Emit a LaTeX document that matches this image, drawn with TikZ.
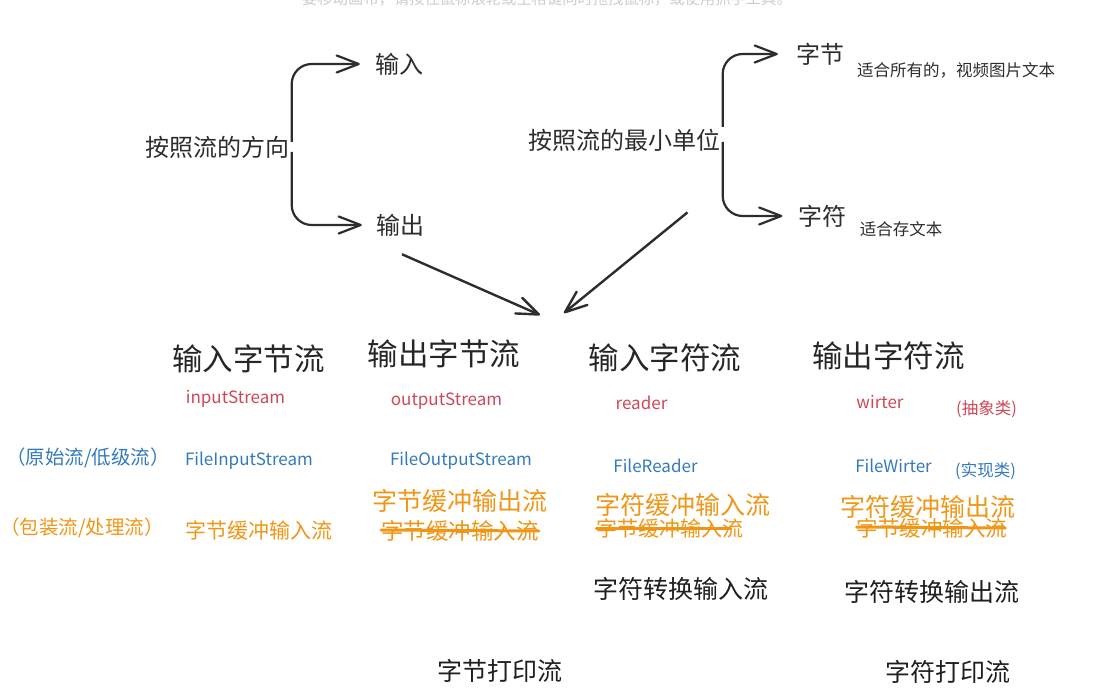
\documentclass[tikz,border=0pt]{standalone}
\usepackage{fontspec}
\setmainfont{Noto Sans CJK SC}
\usepackage{xcolor}
\usepackage{tikz}
\usetikzlibrary{arrows.meta, positioning}

\definecolor{inkgray}{RGB}{45,45,45}
\definecolor{absred}{RGB}{205,72,88}
\definecolor{implblue}{RGB}{52,122,186}
\definecolor{wraporange}{RGB}{240,150,22}

\begin{document}
\begin{tikzpicture}[
    x=1pt, y=-1pt,
    >={Straight Barb[length=22pt, width=17pt, round]},
    brace_arrow/.style={draw=inkgray, line width=2.2pt, rounded corners=20pt, ->},
    diag_arrow/.style={draw=inkgray, line width=2.4pt, ->},
    strike_line/.style={draw=wraporange, line width=3pt, line cap=round},
    % 顶部分类
    hint_text/.style={text=black!20, inner sep=0pt, font=\fontsize{15.3}{18}\selectfont},
    top_text/.style={text=inkgray, inner sep=2pt, font=\fontsize{24}{28}\selectfont},
    note_text/.style={text=inkgray, inner sep=0pt, font=\fontsize{16.5}{20}\selectfont},
    % 四大类
    head_node/.style={text=inkgray!85!black, inner sep=0pt, font=\fontsize{30.5}{36}\selectfont},
    abs_node/.style={text=absred, inner sep=0pt, font=\fontsize{17}{20}\selectfont},
    impl_node/.style={text=implblue, inner sep=0pt, font=\fontsize{17}{20}\selectfont},
    tag_node/.style={inner sep=0pt, font=\fontsize{16.5}{20}\selectfont},
    side_node/.style={inner sep=0pt, font=\fontsize{19.5}{24}\selectfont},
    % 缓冲流 / 其他流
    buf_node/.style={text=wraporange, inner sep=0pt, font=\fontsize{25}{30}\selectfont},
    old_node/.style={text=wraporange, inner sep=0pt, font=\fontsize{21.5}{26}\selectfont},
    plain_node/.style={text=black!88, inner sep=0pt, font=\fontsize{25}{30}\selectfont}
]
    \useasboundingbox (0,0) rectangle (1118,700);
    \clip (0,0) rectangle (1118,700);

    % =========================================================================
    % 顶部: 流的分类
    % =========================================================================
    \node [hint_text, anchor=base] (hint) at (547,5) {要移动画布，请按住鼠标滚轮或空格键同时拖拽鼠标，或使用抓手工具。};

    \node [top_text] (dir) at (217.5,147) {按照流的方向};
    \node [top_text] (in) at (399,64) {输入};
    \node [top_text] (out) at (400,225) {输出};

    \draw [brace_arrow, shorten >=13pt] ([yshift=5pt]dir.east) |- (in.west);
    \draw [brace_arrow, shorten >=12pt] ([yshift=-5pt]dir.east) |- (out.west);

    \node [top_text] (unit) at (624.5,140) {按照流的最小单位};
    \node [top_text] (byte) at (820,54) {字节};
    \node [top_text] (char) at (822.5,216) {字符};
    \node [note_text] (note_byte) at (956,70) {适合所有的，视频图片文本};
    \node [note_text] (note_char) at (901,229.5) {适合存文本};

    \draw [brace_arrow, shorten >=16pt] ([yshift=13pt]unit.east) |- (byte.west);
    \draw [brace_arrow, shorten >=14pt] ([yshift=-2pt]unit.east) |- (char.west);

    \coordinate (meet_l) at (540,315);
    \coordinate (meet_r) at (564,313);
    \draw [diag_arrow] (out.south) ++(2,16) -- (meet_l);
    \draw [diag_arrow] (unit.south) ++(63,59) -- (meet_r);

    % =========================================================================
    % 四大类: 抽象类 / 实现类
    % =========================================================================
    \node [head_node] (h_ib) at (248.5,359) {输入字节流};
    \node [head_node] (h_ob) at (444,354) {输出字节流};
    \node [head_node] (h_ic) at (665,358) {输入字符流};
    \node [head_node] (h_oc) at (888.5,356) {输出字符流};

    \node [abs_node] (a_ib) at (235.5,399) {inputStream};
    \node [abs_node] (a_ob) at (446.5,401) {outputStream};
    \node [abs_node] (a_ic) at (641.5,403) {reader};
    \node [abs_node] (a_oc) at (880,402) {wirter};
    \node [tag_node, text=absred] (tag_abs) at (986.5,409) {(抽象类)};

    \node [side_node, text=implblue] (tag_raw) at (88,458) {（原始流/低级流）};
    \node [impl_node] (f_ib) at (249,461) {FileInputStream};
    \node [impl_node] (f_ob) at (461,461) {FileOutputStream};
    \node [impl_node] (f_ic) at (655.5,466) {FileReader};
    \node [impl_node] (f_oc) at (893.5,466) {FileWirter};
    \node [tag_node, text=implblue] (tag_impl) at (985.5,471) {(实现类)};

    % =========================================================================
    % 包装流: 缓冲流 / 转换流 / 打印流
    % =========================================================================
    \node [side_node, text=wraporange] (tag_wrap) at (82,528) {（包装流/处理流）};
    \node [old_node, font=\fontsize{21}{26}\selectfont] (b_ib) at (258.5,530) {字节缓冲输入流};
    \node [buf_node] (b_ob) at (459.5,501) {字节缓冲输出流};
    \node [old_node, font=\fontsize{22.5}{26}\selectfont] (s_ob) at (460,531) {字节缓冲输入流};
    \node [buf_node] (b_ic) at (682.5,505) {字符缓冲输入流};
    \node [old_node, font=\fontsize{21}{26}\selectfont] (s_ic) at (670,528) {字节缓冲输入流};
    \node [buf_node] (b_oc) at (927.5,507) {字符缓冲输出流};
    \node [old_node] (s_oc) at (932,528) {字节缓冲输入流};

    \draw [strike_line] ([yshift=1pt]s_ob.west) -- ([yshift=0pt]s_ob.east);
    \draw [strike_line] ([yshift=0pt]s_ic.west) -- ([xshift=-13pt]s_ic.east);
    \draw [strike_line] ([yshift=1pt]s_oc.west) -- ([xshift=-2pt]s_oc.east);

    \node [plain_node] (c_ic) at (680.5,589) {字符转换输入流};
    \node [plain_node] (c_oc) at (931.5,592) {字符转换输出流};
    \node [plain_node] (p_b) at (500,671) {字节打印流};
    \node [plain_node] (p_c) at (947.5,672) {字符打印流};
\end{tikzpicture}
\end{document}
